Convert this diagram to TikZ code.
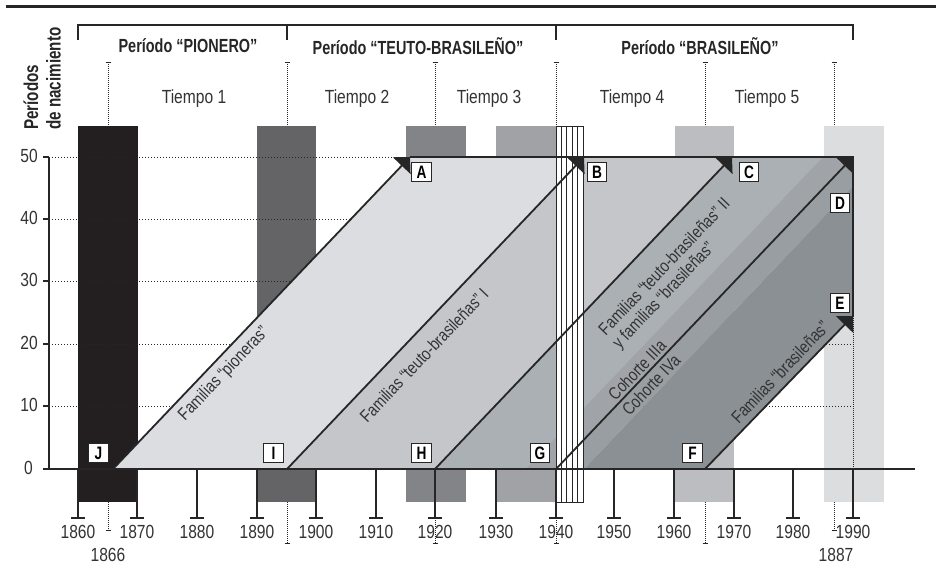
\documentclass[tikz,border=0pt]{standalone}
\usepackage{fontspec}
\setmainfont{Liberation Sans}[FakeStretch=0.82, BoldFeatures={FakeStretch=0.76}]
\usetikzlibrary{arrows.meta}
\definecolor{barK}{HTML}{231F20}
\definecolor{barD}{HTML}{646466}
\definecolor{barM}{HTML}{838487}
\definecolor{barL}{HTML}{A1A2A5}
\definecolor{barLL}{HTML}{BCBDC0}
\definecolor{barX}{HTML}{DCDDDF}
\definecolor{fP}{HTML}{DCDDE0}
\definecolor{fT}{HTML}{C4C6C9}
\definecolor{fU}{HTML}{ABB0B5}
\definecolor{fIII}{HTML}{A0A4A8}
\definecolor{fIV}{HTML}{999EA2}
\definecolor{fB}{HTML}{8B9095}
\definecolor{ink}{HTML}{262626}
\definecolor{txt}{HTML}{333333}
\begin{document}
\begin{tikzpicture}[x=1pt,y=-1pt,
  thick line/.style={line width=1.8pt, draw=ink},
  dotline/.style={line width=0.9pt, draw=ink, dash pattern=on 0.9pt off 2.1pt},
  vdot/.style={line width=0.7pt, draw=ink, dash pattern=on 0.8pt off 1.2pt},
  arr/.style={-{Triangle[length=12pt,width=24pt]}},
  lbl/.style={draw=ink, fill=white, line width=0.8pt, minimum size=19.5pt, inner sep=0pt, font=\bfseries\fontsize{18}{18}\selectfont},
  diag/.style={rotate=46.4, text=txt, font=\fontsize{17.5}{19}\selectfont, inner sep=1pt},
  reg/.style={text=txt, font=\fontsize{19}{21}\selectfont, inner sep=0pt},
  hdr/.style={text=ink, font=\bfseries\fontsize{19}{21}\selectfont, inner sep=0pt},
  tickbar/.style={line width=2pt, draw=ink}
]
\useasboundingbox (0,0) rectangle (937,574);
% top rule and header bracket
\draw[line width=3pt, draw=ink] (6,6) -- (936,6);
\draw[line width=1.2pt, draw=ink] (78,40) -- (78,25) -- (853,25) -- (853,40);
\draw[line width=1.2pt, draw=ink] (287,25) -- (287,40);
\draw[line width=1.2pt, draw=ink] (556,25) -- (556,40);
\node[hdr] (p1) at (188,46) {Período “PIONERO”};
\node[hdr] (p2) at (418,46) {Período “TEUTO-BRASILEÑO”};
\node[hdr] (p3) at (700,46) {Período “BRASILEÑO”};
\node[reg, anchor=base] (t1) at (194,103) {Tiempo 1};
\node[reg, anchor=base] (t2) at (357,103) {Tiempo 2};
\node[reg, anchor=base] (t3) at (489,103) {Tiempo 3};
\node[reg, anchor=base] (t4) at (632,103) {Tiempo 4};
\node[reg, anchor=base] (t5) at (767,103) {Tiempo 5};
\node[hdr, rotate=90, anchor=west, font=\bfseries\fontsize{20}{20}\selectfont] (yl1) at (31,130) {Períodos};
\node[hdr, rotate=90, anchor=west, font=\bfseries\fontsize{20}{20}\selectfont] (yl2) at (53.5,130) {de nacimiento};
% bars
\fill[barK] (78,126) rectangle (138,502);
\fill[barD] (257,126) rectangle (316,502);
\fill[barM] (406,126) rectangle (466,502);
\fill[barL] (496,126) rectangle (556,502);
\fill[barLL] (675,126) rectangle (734,502);
\fill[barX] (824,126) rectangle (884,502);
% dotted time markers
\foreach \xx in {108,287,435,556,705,834} {
  \draw[vdot] (\xx,62) -- (\xx,126);
  \draw[line width=0.9pt, draw=ink] (\xx-2.5,62) -- (\xx+2.5,62);
}
\foreach \xx in {287,435,556,705} {
  \draw[vdot] (\xx,502) -- (\xx,543);
  \draw[line width=0.9pt, draw=ink] (\xx-2.5,543) -- (\xx+2.5,543);
}
\foreach \xx in {108,834} {
  \draw[vdot] (\xx,502) -- (\xx,530);
  \draw[line width=0.9pt, draw=ink] (\xx-2.5,530) -- (\xx+2.5,530);
}
% gridlines
\foreach \yy in {157,219,281,344,406} {
  \draw[dotline] (49,\yy) -- (853,\yy);
}
% points
\coordinate (J) at (113,469);
\coordinate (I) at (287,469);
\coordinate (H) at (435,469);
\coordinate (G) at (556,469);
\coordinate (F) at (705,469);
\coordinate (A) at (410,157);
\coordinate (B) at (584,157);
\coordinate (C) at (732,157);
\coordinate (K) at (853,157);
\coordinate (E) at (853,316);
\coordinate (Z) at (853,469);
\coordinate (L1b) at (526,469);
\coordinate (L1t) at (823,157);
\coordinate (L2b) at (584,469);
\coordinate (L2t) at (853,186);
% fills
\fill[fP] (J) -- (I) -- (B) -- (A) -- cycle;
\fill[fT] (I) -- (H) -- (C) -- (B) -- cycle;
\fill[fU] (H) -- (G) -- (K) -- (C) -- cycle;
\fill[fIII] (L1b) -- (G) -- (K) -- (L1t) -- cycle;
\fill[fIV] (G) -- (L2b) -- (L2t) -- (K) -- cycle;
\fill[fB] (L2b) -- (F) -- (E) -- (L2t) -- cycle;
% hatched bar
\draw[fill=white, draw=ink, line width=0.8pt] (556,126) rectangle (583,502);
\foreach \xx in {561.4,566.8,572.2,577.6} {
  \draw[line width=0.7pt, draw=ink] (\xx,126) -- (\xx,502);
}
% dotted right edge below E
\draw[vdot] (E) -- (Z);
% outlines
\draw[thick line] (A) -- (K) -- (E);
\draw[thick line, arr] (J) -- (A);
\draw[thick line, arr] (I) -- (B);
\draw[thick line, arr] (H) -- (C);
\draw[thick line, arr] (G) -- (K);
\draw[thick line, arr] (F) -- (E);
% axes
\draw[line width=2.2pt, draw=ink] (43,469) -- (915,469);
\draw[line width=2pt, draw=ink] (49,157) -- (49,469);
\foreach \yy/\lab in {157/50,219/40,281/30,344/20,406/10} {
  \draw[line width=2pt, draw=ink] (43,\yy) -- (49,\yy);
  \node[reg, anchor=east] (y\lab) at (38,\yy-1) {\lab};
}
\node[reg, anchor=east] (y0) at (33,468) {0};
\foreach \xx/\lab in {78/1860,137/1870,197/1880,257/1890,316/1900,376/1910,435/1920,496/1930,556/1940,614/1950,674/1960,734/1970,793/1980,853/1990} {
  \draw[tickbar] (\xx,469) -- (\xx,518);
  \draw[tickbar] (\xx-7,518) -- (\xx+7,518);
  \node[reg] (x\lab) at (\xx,532) {\lab};
}
\node[reg] (x1866) at (108,555) {1866};
\node[reg] (x1887) at (836,555) {1887};
% diagonal labels
\node[diag] (dP) at (224,374) {Familias “pioneras”};
\node[diag] (dT) at (424,355) {Familias “teuto-brasileñas” I};
\node[diag, align=left] (dTB) at (672,274) {Familias “teuto-brasileñas” II\\y familias “brasileñas”};
\node[diag] (dC3) at (637,370) {Cohorte IIIa};
\node[diag] (dC4) at (651,385) {Cohorte IVa};
\node[diag] (dB) at (780,372) {Familias “brasileñas”};
% point labels
\node[lbl] (bA) at (421.5,172) {A};
\node[lbl] (bB) at (597,172) {B};
\node[lbl] (bC) at (749,172) {C};
\node[lbl] (bD) at (840,203) {D};
\node[lbl] (bE) at (840,303) {E};
\node[lbl] (bF) at (692.5,453) {F};
\node[lbl] (bG) at (540,453) {G};
\node[lbl] (bH) at (421.5,453) {H};
\node[lbl] (bI) at (273.5,453) {I};
\node[lbl] (bJ) at (98.5,453) {J};
\end{tikzpicture}
\end{document}
